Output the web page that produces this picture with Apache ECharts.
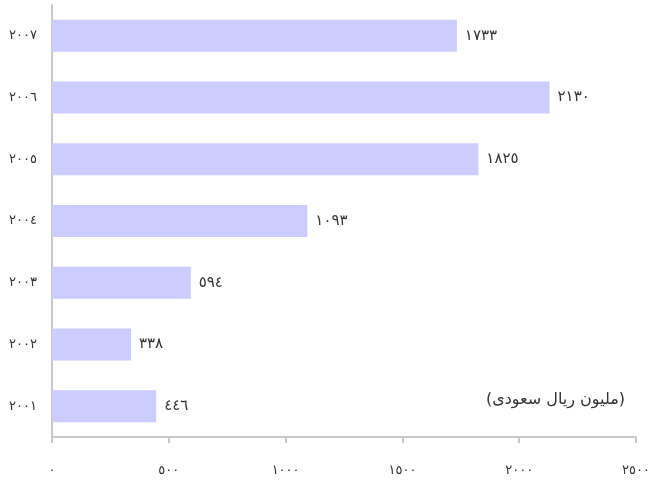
<!doctype html>
<html>
<head>
<meta charset="UTF-8">
<title></title>
<script src="https://cdn.jsdelivr.net/npm/echarts@6/dist/echarts.min.js"></script>
<style>
  html, body { margin: 0; padding: 0; background: #fff; }
  #main { width: 649px; height: 486px; }
</style>
</head>
<body>
<div id="main"></div>
<script>
var years = ['٢٠٠١', '٢٠٠٢', '٢٠٠٣', '٢٠٠٤', '٢٠٠٥', '٢٠٠٦', '٢٠٠٧'];
var values = [446, 338, 594, 1093, 1825, 2130, 1733];
var unitText = '(مليون ريال سعودى)';

var digits = '٠١٢٣٤٥٦٧٨٩';
function toArabic(n) {
  return String(n).replace(/[0-9]/g, function (d) { return digits[+d]; });
}

var chart = echarts.init(document.getElementById('main'));
chart.setOption({
  animation: false,
  textStyle: { fontFamily: 'DejaVu Sans' },
  grid: { left: 52, right: 13, top: 5, bottom: 49, outerBoundsMode: 'none' },
  xAxis: {
    type: 'value',
    min: 0,
    max: 2500,
    interval: 500,
    splitLine: { show: false },
    axisLine: { show: true, lineStyle: { color: '#c8c8c8', width: 2 } },
    axisTick: { show: true, length: 6, lineStyle: { color: '#c8c8c8', width: 2 } },
    axisLabel: {
      margin: 27,
      color: '#333',
      fontSize: 13,
      formatter: function (v) { return toArabic(v); }
    }
  },
  yAxis: {
    type: 'category',
    data: years,
    axisLine: { lineStyle: { color: '#c8c8c8', width: 2 } },
    axisTick: { length: 6, lineStyle: { color: '#c8c8c8', width: 2 } },
    axisLabel: { margin: 15, color: '#333', fontSize: 13 }
  },
  series: [{
    type: 'bar',
    data: values,
    barWidth: 32,
    itemStyle: { color: '#ccccff' },
    label: {
      show: true,
      position: 'right',
      distance: 8,
      color: '#333',
      fontSize: 15,
      formatter: function (p) { return toArabic(p.value); }
    }
  }],
  graphic: [{
    type: 'text',
    right: 24,
    top: 392,
    style: { text: unitText, fill: '#333', fontSize: 16, fontFamily: 'DejaVu Sans' }
  }]
});
</script>
</body>
</html>
